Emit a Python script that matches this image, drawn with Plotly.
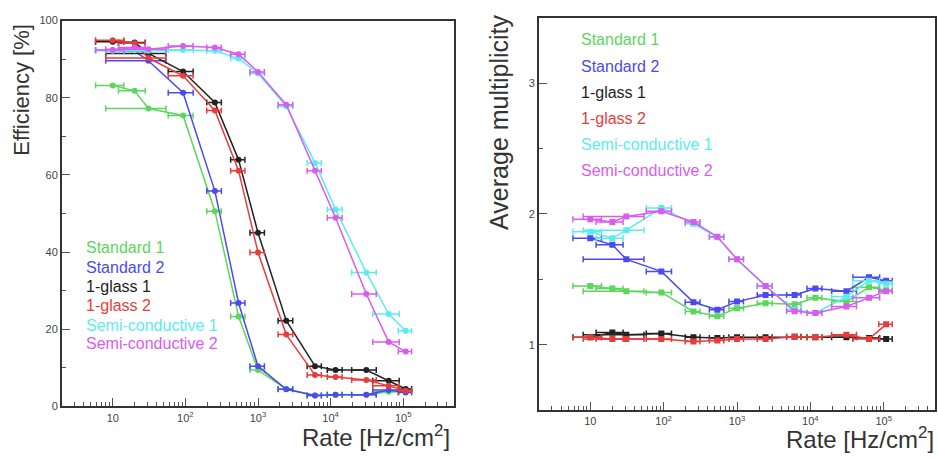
import plotly.graph_objects as go

# ---------------- data ----------------
rate = [10, 20, 31, 93, 255, 540, 1000, 2450, 6100, 11700, 31000, 63000, 108000]
rate_err = [4.2, 8, 23, 35, 58, 120, 225, 560, 1350, 2700, 11500, 25000, 22500]

names = ["Standard 1", "Standard 2", "1-glass 1", "1-glass 2",
         "Semi-conductive 1", "Semi-conductive 2"]

eff_std1 = [83.2, 81.8, 77.2, 75.4, 50.6, 23.3, 9.4, 4.5, 2.8, 3.0, 3.0, 3.8, 3.9]
eff_std2 = [92.3, 92.1, 89.6, 81.3, 55.8, 26.8, 10.4, 4.4, 2.8, 3.0, 3.0, 4.2, 3.6]
eff_glass1 = [94.5, 94.3, 91.5, 86.8, 78.8, 63.9, 45.0, 22.2, 10.4, 9.4, 9.4, 6.6, 4.5]
eff_glass2 = [94.9, 94.1, 90.3, 85.7, 76.7, 61.1, 39.9, 18.6, 8.1, 7.6, 6.8, 5.3, 4.0]
eff_semi1 = [92.2, 92.3, 92.2, 92.4, 92.2, 90.2, 86.3, 77.8, 63.1, 51.0, 34.7, 23.9, 19.6]
eff_semi2 = [92.4, 93.0, 92.6, 93.4, 93.0, 91.3, 86.7, 78.2, 61.1, 48.9, 29.1, 16.7, 14.2]

mult_std1 = [1.449, 1.43, 1.41, 1.40, 1.255, 1.218, 1.28, 1.318, 1.31, 1.36, 1.33, 1.44, 1.417]
mult_std2 = [1.814, 1.764, 1.653, 1.561, 1.325, 1.268, 1.33, 1.38, 1.38, 1.43, 1.41, 1.516, 1.49]
mult_glass1 = [1.057, 1.094, 1.077, 1.087, 1.057, 1.052, 1.057, 1.057, 1.062, 1.057, 1.057, 1.052, 1.045]
mult_glass2 = [1.057, 1.045, 1.045, 1.045, 1.025, 1.032, 1.045, 1.045, 1.062, 1.057, 1.077, 1.045, 1.156]
mult_semi1 = [1.864, 1.814, 1.876, 2.045, 1.926, 1.821, 1.653, 1.449, 1.268, 1.243, 1.367, 1.49, 1.466]
mult_semi2 = [1.96, 1.938, 1.98, 2.02, 1.938, 1.826, 1.653, 1.449, 1.256, 1.243, 1.293, 1.36, 1.41]

x_tickvals = [10, 100, 1000, 10000, 100000]
x_ticktext = ["10", "10<sup>2</sup>", "10<sup>3</sup>", "10<sup>4</sup>", "10<sup>5</sup>"]
eff_ticks = [0, 20, 40, 60, 80, 100]
mult_ticks = [1, 2, 3]

colors = ["#5cd65c", "#4a4af0", "#222222", "#e83c3c", "#5cecf0", "#d95cef"]

eff_series = [eff_std1, eff_std2, eff_glass1, eff_glass2, eff_semi1, eff_semi2]
mult_series = [mult_std1, mult_std2, mult_glass1, mult_glass2, mult_semi1, mult_semi2]

# ---------------- figure ----------------
W, H = 938, 461
FONT = "Liberation Sans, Arial, sans-serif"
fig = go.Figure()

for ys, c, n in zip(eff_series, colors, names):
    fig.add_trace(go.Scatter(
        x=rate, y=ys, mode="lines+markers", name=n, xaxis="x", yaxis="y",
        line=dict(color=c, width=1.5),
        marker=dict(color=c, size=6, symbol="circle"),
        error_x=dict(type="data", array=rate_err, color=c, thickness=1.5, width=3),
        showlegend=False))

for ys, c, n in zip(mult_series, colors, names):
    fig.add_trace(go.Scatter(
        x=rate, y=ys, mode="lines+markers", name=n, xaxis="x2", yaxis="y2",
        line=dict(color=c, width=1.5),
        marker=dict(color=c, size=6, symbol="square"),
        error_x=dict(type="data", array=rate_err, color=c, thickness=1.5, width=3),
        showlegend=False))

axis_common = dict(showgrid=False, zeroline=False, showline=True, linecolor="#333333",
                   linewidth=2, mirror=True, ticks="inside", ticklen=8, tickcolor="#555555",
                   tickfont=dict(family=FONT, size=11, color="#444444"))

xcommon = dict(type="log", range=[0.301, 5.699], tickvals=x_tickvals, ticktext=x_ticktext,
               minor=dict(ticks="inside", ticklen=4, dtick="D1", tickcolor="#555555", showgrid=False),
               **axis_common)

fig.update_layout(
    width=W, height=H,
    margin=dict(l=0, r=0, t=0, b=0),
    paper_bgcolor="white", plot_bgcolor="white",
    xaxis=dict(domain=[62 / W, 454 / W], anchor="y", **xcommon),
    yaxis=dict(domain=[1 - 411 / H, 1 - 15 / H], anchor="x", range=[0, 100],
               tickvals=eff_ticks,
               minor=dict(ticks="inside", ticklen=4, dtick=10, tickcolor="#555555", showgrid=False),
               **axis_common),
    xaxis2=dict(domain=[539 / W, 935 / W], anchor="y2", **xcommon),
    yaxis2=dict(domain=[1 - 415 / H, 1 - 12 / H], anchor="x2", range=[0.5, 3.5],
                tickvals=mult_ticks,
                minor=dict(ticks="inside", ticklen=4, dtick=0.5, tickcolor="#555555", showgrid=False),
                **axis_common),
)

ann = []
# axis titles
ann.append(dict(text="Efficiency [%]", x=22 / W, y=1 - 86 / H, xref="paper", yref="paper",
                textangle=-90, showarrow=False, xanchor="center", yanchor="middle",
                font=dict(family=FONT, size=22, color="#333333")))
ann.append(dict(text="Rate [Hz/cm<sup>2</sup>]", x=452 / W, y=1 - 442 / H, xref="paper", yref="paper",
                showarrow=False, xanchor="right", yanchor="middle",
                font=dict(family=FONT, size=24, color="#333333")))
ann.append(dict(text="Average multiplicity", x=499 / W, y=1 - 120 / H, xref="paper", yref="paper",
                textangle=-90, showarrow=False, xanchor="center", yanchor="middle",
                font=dict(family=FONT, size=25, color="#333333")))
ann.append(dict(text="Rate [Hz/cm<sup>2</sup>]", x=936 / W, y=1 - 444 / H, xref="paper", yref="paper",
                showarrow=False, xanchor="right", yanchor="middle",
                font=dict(family=FONT, size=24, color="#333333")))

# text legends
left_leg_y = [248, 268, 288, 308, 328, 347]
right_leg_y = [34, 62, 89, 116, 142, 169]
for n, c, yl, yr in zip(names, colors, left_leg_y, right_leg_y):
    ann.append(dict(text=n, x=84 / W, y=1 - yl / H, xref="paper", yref="paper",
                    showarrow=False, xanchor="left", yanchor="middle",
                    font=dict(family=FONT, size=16, color=c)))
    ann.append(dict(text=n, x=579 / W, y=1 - yr / H, xref="paper", yref="paper",
                    showarrow=False, xanchor="left", yanchor="middle",
                    font=dict(family=FONT, size=16, color=c)))

fig.update_layout(annotations=ann)
fig.write_html("out.html", config={"displayModeBar": False},
               post_script="document.body.style.margin='0px';document.body.style.padding='0px';")
